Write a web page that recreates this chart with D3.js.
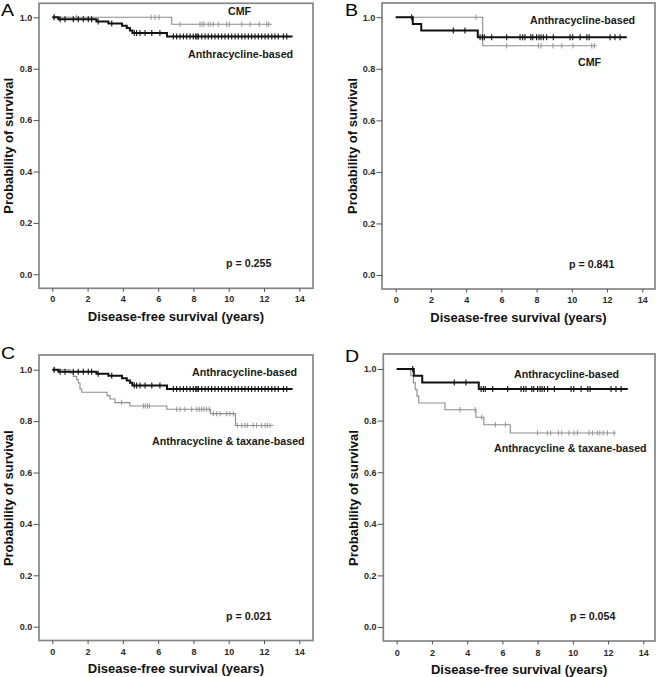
<!DOCTYPE html>
<html><head><meta charset="utf-8">
<script src="https://cdn.jsdelivr.net/npm/d3@7"></script>
<style>body{margin:0;background:#fff}svg{display:block}</style>
</head><body>
<script>
// ---------- DATA ----------
const xTicks = [0, 2, 4, 6, 8, 10, 12, 14];
const yTicks = [0, 0.2, 0.4, 0.6, 0.8, 1.0];
const panelLetters = ["A", "B", "C", "D"];
const pValues = ["p = 0.255", "p = 0.841", "p = 0.021", "p = 0.054"];
const xAxisTitle = "Disease-free survival (years)";
const yAxisTitle = "Probability of survival";
const groupNames = ["Anthracycline-based", "CMF", "Anthracycline & taxane-based"];

// Cohort 1 (panels A and C): Anthracycline-based
const anthra1EventTimes = [0.34, 2.5, 3.18, 3.95, 4.22, 4.4, 4.54, 6.5];
const anthra1Survival   = [0.992, 0.984, 0.976, 0.967, 0.958, 0.949, 0.939, 0.925];
const anthra1Censored   = [0.1, 0.44, 0.72, 1.19, 1.47, 1.76, 2.04, 2.23, 2.6, 3.37,
  4.65, 4.78, 4.97, 5.26, 5.64, 6.1,
  6.86, 7.05, 7.24, 7.43, 7.62, 7.81, 7.99, 8.13, 8.2, 8.28, 8.47, 8.66, 8.84, 9.03,
  9.22, 9.41, 9.6, 9.79, 9.98, 10.17, 10.36, 10.54, 10.74, 10.92, 11.11, 11.3, 11.49,
  11.68, 11.87, 12.06, 12.24, 12.44, 12.62, 12.81, 13.1, 13.29];
const anthra1End = 13.62;

// Cohort 1 (panel A): CMF
const cmf1EventTimes = [6.77];
const cmf1Survival   = [0.973];
const cmf1Censored   = [0.11, 1.38, 5.6, 5.82, 6.05, 7.24, 8.37, 8.49, 8.6, 8.84, 8.98, 9.13,
  9.41, 9.89, 10.04, 10.74, 11.21, 11.73, 12.15, 12.27];
const cmf1End = 12.44;

// Cohort 1 (panel C): Anthracycline & taxane-based
const taxane1EventTimes = [1.0, 1.19, 1.38, 1.47, 1.57, 1.67, 3.1, 3.27, 3.55, 4.4, 6.49, 8.96, 10.38];
const taxane1Survival   = [0.987, 0.974, 0.961, 0.948, 0.925, 0.912, 0.899, 0.886, 0.872, 0.859, 0.846, 0.829, 0.783];
const taxane1Censored   = [0.12, 3.93, 5.16, 5.27, 5.39, 5.5, 7.05, 7.24, 7.52, 7.9, 8.19, 8.33,
  8.47, 8.6, 8.75, 8.9, 9.13, 9.32, 9.51, 9.89, 10.07, 10.26, 10.49, 10.74, 10.92, 11.05,
  11.39, 11.58, 11.87, 12.06, 12.19, 12.34];
const taxane1End = 12.53;

// Cohort 2 (panels B and D): Anthracycline-based
const anthra2EventTimes = [0.97, 1.45, 4.66];
const anthra2Survival   = [0.974, 0.948, 0.922];
const anthra2Censored   = [0.91, 3.27, 3.93, 4.79, 4.92, 5.03, 5.45, 6.3, 7.06, 7.21, 7.34,
  7.67, 7.78, 8.0, 8.14, 8.25, 8.38, 8.57, 8.95, 9.9, 10.05, 10.47, 10.85, 10.98, 12.17,
  12.45, 12.74];
const anthra2End = 13.12;

// Cohort 2 (panel B): CMF
const cmf2EventTimes = [4.94];
const cmf2Survival   = [0.889];
const cmf2Censored   = [4.56, 6.3, 8.1, 8.25, 8.93, 9.43, 10.07, 11.13, 11.28];
const cmf2End = 11.41;

// Cohort 2 (panel D): Anthracycline & taxane-based
const taxane2EventTimes = [0.8, 0.95, 1.05, 1.15, 1.25, 2.74, 4.5, 4.95, 6.45];
const taxane2Survival   = [0.974, 0.947, 0.921, 0.895, 0.868, 0.842, 0.813, 0.784, 0.752];
const taxane2Censored   = [3.6, 4.45, 4.83, 5.6, 6.17, 7.99, 8.55, 8.74, 9.18, 9.37, 9.78,
  10.07, 10.26, 10.92, 11.11, 11.39, 11.53, 11.72, 11.96, 12.34];
const taxane2End = 12.44;

// ---------- BUILD ----------
function curve(times, surv, cens, end) { return {times, surv, cens, end}; }
const panels = [
  { gray: curve(cmf1EventTimes, cmf1Survival, cmf1Censored, cmf1End),
    black: curve(anthra1EventTimes, anthra1Survival, anthra1Censored, anthra1End) },
  { gray: curve(cmf2EventTimes, cmf2Survival, cmf2Censored, cmf2End),
    black: curve(anthra2EventTimes, anthra2Survival, anthra2Censored, anthra2End) },
  { gray: curve(taxane1EventTimes, taxane1Survival, taxane1Censored, taxane1End),
    black: curve(anthra1EventTimes, anthra1Survival, anthra1Censored, anthra1End) },
  { gray: curve(taxane2EventTimes, taxane2Survival, taxane2Censored, taxane2End),
    black: curve(anthra2EventTimes, anthra2Survival, anthra2Censored, anthra2End) }
];

// layout (pixel geometry, separate from data)
const layout = [
  {x0:52.3, x14:299.3, y1:17.3, y0:274.3, L:39, R:313, T:3.3, B:288.3, letter:[1,16], ylab:13, xtl:302.5, xtit:321,
   labels:[{g:1, x:228, y:15}, {g:0, x:188, y:58}], p:{x:226, y:267}},
  {x0:395.7, x14:642.3, y1:17.2, y0:275, L:382, R:655, T:3, B:289, letter:[345,16], ylab:357, xtl:303, xtit:321.7,
   labels:[{g:0, x:530, y:24}, {g:1, x:578, y:65.5}], p:{x:569, y:268}},
  {x0:52.3, x14:299.3, y1:369.7, y0:626.7, L:39, R:313, T:355, B:640.5, letter:[1,359], ylab:13, xtl:655, xtit:673,
   labels:[{g:0, x:192, y:376}, {g:2, x:152, y:445}], p:{x:226, y:619.5}},
  {x0:396.7, x14:643.3, y1:369, y0:627, L:383.3, R:655, T:354, B:641, letter:[345,362], ylab:358, xtl:655.5, xtit:673.7,
   labels:[{g:0, x:514, y:378}, {g:2, x:494, y:451.5}], p:{x:570, y:619.5}}
];

const FONT = "'Liberation Sans', Arial, Helvetica, sans-serif";
const svg = d3.select("body").append("svg").attr("width", 658).attr("height", 677)
  .style("font-family", FONT);

function survAt(c, t) {
  let s = 1;
  for (let i = 0; i < c.times.length; i++) if (c.times[i] <= t) s = c.surv[i];
  return s;
}

panels.forEach((pd, i) => {
  const lo = layout[i];
  const x = d3.scaleLinear().domain([0, 14]).range([lo.x0, lo.x14]);
  const y = d3.scaleLinear().domain([0, 1]).range([lo.y0, lo.y1]);
  const g = svg.append("g");

  // frame
  g.append("rect").attr("x", lo.L).attr("y", lo.T).attr("width", lo.R - lo.L).attr("height", lo.B - lo.T)
    .attr("fill", "none").attr("stroke", "#858585").attr("stroke-width", 1.7);

  // y axis
  const ya = g.append("g").attr("transform", `translate(${lo.L},0)`)
    .call(d3.axisLeft(y).tickValues(yTicks).tickFormat(d3.format(".1f")).tickSize(5.5).tickPadding(1.2));
  ya.select(".domain").remove();
  ya.selectAll("line").attr("stroke", "#555").attr("stroke-width", 1);
  ya.selectAll("text").attr("font-family", FONT).attr("font-size", 9).attr("font-weight", "bold").attr("fill", "#2a2a2a");

  // x axis
  const xa = g.append("g").attr("transform", `translate(0,${lo.B})`)
    .call(d3.axisBottom(x).tickValues(xTicks).tickFormat(d3.format("d")).tickSize(3.5).tickPadding(3));
  xa.select(".domain").remove();
  xa.selectAll("line").attr("stroke", "#555").attr("stroke-width", 1);
  xa.selectAll("text").attr("font-family", FONT).attr("font-size", 9).attr("font-weight", "bold").attr("fill", "#2a2a2a")
    .attr("dy", null).attr("y", lo.xtl - lo.B);

  // titles
  g.append("text").attr("x", (lo.L + lo.R) / 2).attr("y", lo.xtit).attr("text-anchor", "middle")
    .attr("font-size", 13).attr("font-weight", "bold").attr("fill", "#111").text(xAxisTitle);
  g.append("text").attr("transform", `translate(${lo.ylab},${y(0.5)}) rotate(-90)`).attr("text-anchor", "middle")
    .attr("font-size", 13).attr("font-weight", "bold").attr("fill", "#111").text(yAxisTitle);
  g.append("text").attr("transform", `translate(${lo.letter[0]},${lo.letter[1]}) scale(1.15,1)`)
    .attr("font-size", 17).attr("fill", "#000").text(panelLetters[i]);

  // curves
  const line = d3.line().x(d => x(d[0])).y(d => y(d[1])).curve(d3.curveStepAfter);
  [["gray", "#8c8c8c", 1.1, 0.9, 2.7], ["black", "#111", 2.0, 1.1, 3.0]].forEach(([key, col, w, cw, ch]) => {
    const c = pd[key];
    const pts = [[0, 1]].concat(c.times.map((t, k) => [t, c.surv[k]]));
    pts.push([c.end, c.surv[c.surv.length - 1]]);
    g.append("path").attr("d", line(pts)).attr("fill", "none").attr("stroke", col).attr("stroke-width", w);
    g.selectAll(null).data(c.cens).enter().append("line")
      .attr("x1", t => x(t)).attr("x2", t => x(t))
      .attr("y1", t => y(survAt(c, t)) - ch).attr("y2", t => y(survAt(c, t)) + ch)
      .attr("stroke", col).attr("stroke-width", cw);
  });

  // annotations
  lo.labels.forEach(l => {
    g.append("text").attr("x", l.x).attr("y", l.y).attr("font-size", 10.7).attr("font-weight", "bold")
      .attr("fill", "#1a1a1a").text(groupNames[l.g]);
  });
  g.append("text").attr("x", lo.p.x).attr("y", lo.p.y).attr("font-size", 10.7).attr("font-weight", "bold")
    .attr("fill", "#1a1a1a").text(pValues[i]);
});
</script>
</body></html>
